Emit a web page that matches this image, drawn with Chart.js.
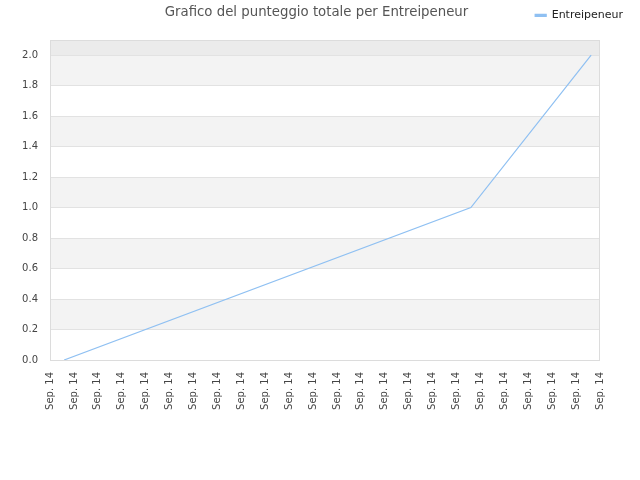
<!DOCTYPE html>
<html>
<head>
<meta charset="utf-8">
<script src="https://cdn.jsdelivr.net/npm/chart.js@4"></script>
<style>
  html, body { margin: 0; padding: 0; background: #fff; }
  #wrap { width: 640px; height: 480px; }
</style>
</head>
<body>
<div id="wrap"><canvas id="grafico"></canvas></div>
<script>
// Dati
const titolo = 'Grafico del punteggio totale per Entreipeneur'
const serieNome = 'Entreipeneur'
const tempi = [0.59, 17.6, 22.63]      // posizione lungo l'asse x (ore)
const punteggi = [0, 1, 2]
const etichetteX = ['Sep. 14', 'Sep. 14', 'Sep. 14', 'Sep. 14', 'Sep. 14', 'Sep. 14',
  'Sep. 14', 'Sep. 14', 'Sep. 14', 'Sep. 14', 'Sep. 14', 'Sep. 14',
  'Sep. 14', 'Sep. 14', 'Sep. 14', 'Sep. 14', 'Sep. 14', 'Sep. 14',
  'Sep. 14', 'Sep. 14', 'Sep. 14', 'Sep. 14', 'Sep. 14', 'Sep. 14']
const tickY = [0, 0.2, 0.4, 0.6, 0.8, 1.0, 1.2, 1.4, 1.6, 1.8, 2.0]

Chart.defaults.font.family = 'DejaVu Sans'

// Fasce alternate di sfondo + bordo area grafico
const fasce = {
  id: 'fasce',
  beforeDraw(chart) {
    const { ctx, chartArea: a, scales: { y } } = chart
    ctx.save()
    ctx.fillStyle = '#ebebeb'
    ctx.fillRect(a.left, a.top, a.width, y.getPixelForValue(2.0) - a.top)
    ctx.fillStyle = '#f3f3f3'
    for (let i = 1; i < tickY.length - 1; i += 2) {
      const y1 = y.getPixelForValue(tickY[i + 1])
      const y0 = y.getPixelForValue(tickY[i])
      ctx.fillRect(a.left, y1, a.width, y0 - y1)
    }
    ctx.restore()
  },
  afterDraw(chart) {
    const { ctx, chartArea: a } = chart
    ctx.save()
    ctx.strokeStyle = '#dcdcdc'
    ctx.lineWidth = 1
    ctx.strokeRect(a.left + 0.5, a.top + 0.5, a.width - 1, a.height)
    ctx.restore()
  }
}

// assi vuoti solo per lo spazio (sopra e a destra dell'area)
const spazio = (w, h) => ({
  display: true,
  grid: { display: false, drawTicks: false },
  border: { display: false },
  ticks: { display: false },
  afterFit: s => { if (w) s.width = w; if (h) s.height = h }
})

new Chart(document.getElementById('grafico'), {
  type: 'line',
  data: {
    datasets: [{
      label: serieNome,
      data: tempi.map((t, i) => ({ x: t, y: punteggi[i] })),
      borderColor: '#8fc0f2',
      backgroundColor: '#8fc0f2',
      borderWidth: 1.2,
      pointRadius: 0,
      tension: 0,
      fill: false
    }]
  },
  options: {
    responsive: true,
    maintainAspectRatio: false,
    animation: false,
    layout: { padding: { left: 0, right: 7, top: 0, bottom: 0 } },
    plugins: {
      title: {
        display: true,
        text: titolo,
        color: '#555',
        font: { size: 13.3, weight: 'normal' },
        padding: { top: 5, bottom: -21 }
      },
      legend: {
        position: 'top',
        align: 'end',
        labels: {
          color: '#222',
          font: { size: 11 },
          boxWidth: 11,
          boxHeight: 2,
          padding: 10
        }
      },
      tooltip: { enabled: false }
    },
    scales: {
      x: {
        type: 'linear',
        min: 0,
        max: etichetteX.length - 1,
        grid: { display: false, drawTicks: false },
        border: { display: false },
        afterBuildTicks: s => { s.ticks = etichetteX.map((_, i) => ({ value: i })) },
        afterFit: s => { s.height = 120 },
        ticks: {
          autoSkip: false,
          minRotation: 90,
          maxRotation: 90,
          padding: 12,
          color: '#444',
          font: { size: 10 },
          callback: (v, i) => etichetteX[i]
        }
      },
      xSopra: { type: 'linear', position: 'top', ...spazio(0, 9) },
      y: {
        min: 0,
        max: 2.1,
        grid: { color: '#e2e2e2', drawTicks: false },
        border: { display: false },
        afterBuildTicks: s => { s.ticks = tickY.map(v => ({ value: v })) },
        afterFit: s => { s.width = 50 },
        ticks: {
          padding: 12,
          color: '#444',
          font: { size: 10 },
          callback: v => v.toFixed(1)
        }
      },
      yDestra: { type: 'linear', position: 'right', ...spazio(33, 0) }
    }
  },
  plugins: [fasce]
})
</script>
